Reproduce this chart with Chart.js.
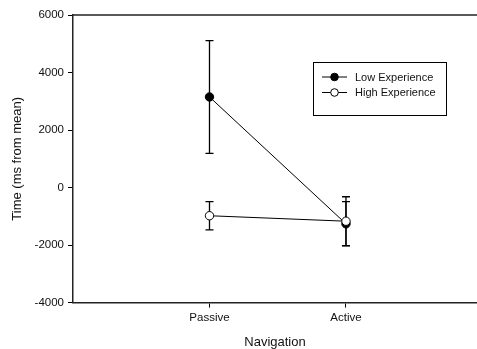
<!DOCTYPE html>
<html>
<head>
<meta charset="utf-8">
<script src="https://cdn.jsdelivr.net/npm/chart.js@4.4.1/dist/chart.umd.min.js"></script>
<style>
  html, body { margin: 0; padding: 0; background: #fff; }
  #wrap { width: 477px; height: 349px; }
</style>
</head>
<body>
<div id="wrap"><canvas id="chart" width="477" height="349"></canvas></div>
<script>
// data
const categories = ["Passive", "Active"];
const lowExperience = [3150, -1260];
const lowError = [1960, 770];
const highExperience = [-980, -1170];
const highError = [490, 850];
const yTicks = [-4000, -2000, 0, 2000, 4000, 6000];

const toPoints = (vals) => vals.map((v, i) => ({ x: i + 1, y: v }));

// error bars, drawn under the points
const errorBars = {
    id: "errorBars",
    beforeDatasetsDraw(chart) {
        const ctx = chart.ctx;
        const xs = chart.scales.x;
        const ys = chart.scales.y;
        ctx.save();
        ctx.strokeStyle = "#000";
        ctx.lineWidth = 1.3;
        chart.data.datasets.forEach((ds) => {
            ds.data.forEach((p, i) => {
                const e = ds.errors[i];
                const x = xs.getPixelForValue(p.x);
                const top = ys.getPixelForValue(p.y + e);
                const bot = ys.getPixelForValue(p.y - e);
                ctx.beginPath();
                ctx.moveTo(x, top);
                ctx.lineTo(x, bot);
                ctx.moveTo(x - 4, top);
                ctx.lineTo(x + 4, top);
                ctx.moveTo(x - 4, bot);
                ctx.lineTo(x + 4, bot);
                ctx.stroke();
            });
        });
        ctx.restore();
    }
};

// top frame line + boxed legend
const frameAndLegend = {
    id: "frameAndLegend",
    afterDraw(chart) {
        const ctx = chart.ctx;
        const a = chart.chartArea;
        ctx.save();
        ctx.strokeStyle = "#222";
        ctx.lineWidth = 1.5;
        ctx.beginPath();
        ctx.moveTo(a.left, a.top);
        ctx.lineTo(a.right, a.top);
        ctx.stroke();

        const bx = 313.5, by = 62.5, bw = 133, bh = 53;
        ctx.lineWidth = 1;
        ctx.strokeStyle = "#000";
        ctx.fillStyle = "#fff";
        ctx.fillRect(bx, by, bw, bh);
        ctx.strokeRect(bx, by, bw, bh);

        ctx.font = "11px Arial, 'Liberation Sans', sans-serif";
        ctx.textBaseline = "middle";
        const rows = [77, 92.5];
        chart.data.datasets.forEach((ds, i) => {
            const y = rows[i];
            ctx.beginPath();
            ctx.moveTo(322, y);
            ctx.lineTo(347, y);
            ctx.strokeStyle = "#000";
            ctx.lineWidth = 1;
            ctx.stroke();
            ctx.beginPath();
            ctx.arc(334.5, y, 3.8, 0, Math.PI * 2);
            ctx.fillStyle = ds.pointBackgroundColor;
            ctx.fill();
            ctx.stroke();
            ctx.fillStyle = "#111";
            ctx.fillText(ds.label, 355, y + 0.5);
        });
        ctx.restore();
    }
};

new Chart(document.getElementById("chart"), {
    type: "line",
    data: {
        datasets: [
            {
                label: "Low Experience",
                data: toPoints(lowExperience),
                errors: lowError,
                borderColor: "#000",
                borderWidth: 1,
                pointBackgroundColor: "#000",
                pointBorderColor: "#000",
                pointBorderWidth: 1,
                pointRadius: 4.2,
                order: 2
            },
            {
                label: "High Experience",
                data: toPoints(highExperience),
                errors: highError,
                borderColor: "#000",
                borderWidth: 1,
                pointBackgroundColor: "#fff",
                pointBorderColor: "#000",
                pointBorderWidth: 1,
                pointRadius: 4.2,
                order: 1
            }
        ]
    },
    options: {
        responsive: false,
        animation: false,
        layout: { autoPadding: false, padding: { top: 15, right: 0, left: 10, bottom: 0 } },
        plugins: {
            legend: { display: false },
            tooltip: { enabled: false }
        },
        scales: {
            x: {
                type: "linear",
                min: 0,
                max: 2.96,
                afterBuildTicks: (scale) => {
                    scale.ticks = categories.map((c, i) => ({ value: i + 1 }));
                },
                ticks: {
                    color: "#111",
                    font: { size: 11.5, family: "Arial, 'Liberation Sans', sans-serif" },
                    padding: 3,
                    callback: (v) => categories[v - 1]
                },
                grid: { drawOnChartArea: false, drawTicks: true, tickLength: 5, color: "#000" },
                border: { color: "#222", width: 1.5 },
                title: {
                    display: true,
                    text: "Navigation",
                    color: "#111",
                    font: { size: 13, family: "Arial, 'Liberation Sans', sans-serif" },
                    padding: { top: 7.5, bottom: -1.5 }
                }
            },
            y: {
                min: -4000,
                max: 6000,
                afterBuildTicks: (scale) => {
                    scale.ticks = yTicks.map((v) => ({ value: v }));
                },
                ticks: {
                    color: "#111",
                    font: { size: 11.5, family: "Arial, 'Liberation Sans', sans-serif" },
                    padding: 4,
                    callback: (v) => String(v)
                },
                grid: { drawOnChartArea: false, drawTicks: true, tickLength: 5, color: "#000" },
                border: { color: "#222", width: 1.5 },
                title: {
                    display: true,
                    text: "Time (ms from mean)",
                    color: "#111",
                    font: { size: 13, family: "Arial, 'Liberation Sans', sans-serif" },
                    padding: { top: 0, bottom: 5 }
                }
            }
        }
    },
    plugins: [errorBars, frameAndLegend]
});
</script>
</body>
</html>
